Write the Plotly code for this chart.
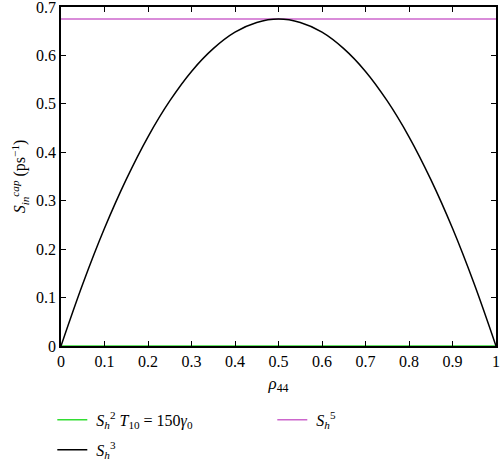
import plotly.graph_objects as go

rho = [0, 0.05, 0.1, 0.15, 0.2, 0.25, 0.3, 0.35, 0.4, 0.45, 0.5,
       0.55, 0.6, 0.65, 0.7, 0.75, 0.8, 0.85, 0.9, 0.95, 1.0]
s3 = [0, 0.128, 0.243, 0.344, 0.432, 0.506, 0.567, 0.614, 0.648, 0.668, 0.675,
      0.668, 0.648, 0.614, 0.567, 0.506, 0.432, 0.344, 0.243, 0.128, 0]
s2 = [0] * len(rho)
s5 = [0.675] * len(rho)

xticks = [0, 0.1, 0.2, 0.3, 0.4, 0.5, 0.6, 0.7, 0.8, 0.9, 1]
xticklabels = ["0", "0.1", "0.2", "0.3", "0.4", "0.5", "0.6", "0.7", "0.8", "0.9", "1"]
yticks = [0, 0.1, 0.2, 0.3, 0.4, 0.5, 0.6, 0.7]
yticklabels = ["0", "0.1", "0.2", "0.3", "0.4", "0.5", "0.6", "0.7"]

FONT = "Liberation Serif"

fig = go.Figure()
fig.add_trace(go.Scatter(x=rho, y=s2, mode="lines", line=dict(color="#33dd33", width=1.5),
                         legend="legend",
                         name="&nbsp;<i>S</i><sub><i>h</i></sub><sup>2</sup> <i>T</i><sub>10</sub> = 150<i>γ</i><sub>0</sub>"))
fig.add_trace(go.Scatter(x=rho, y=s5, mode="lines", line=dict(color="#cc66cc", width=1.5),
                         legend="legend",
                         name="&nbsp;<i>S</i><sub><i>h</i></sub><sup>5</sup>"))
fig.add_trace(go.Scatter(x=rho, y=s3, mode="lines", line=dict(color="black", width=1.5, shape="spline"),
                         legend="legend2",
                         name="&nbsp;<i>S</i><sub><i>h</i></sub><sup>3</sup>"))

axis_common = dict(showline=True, linecolor="black", linewidth=1.5, mirror="allticks",
                   ticks="inside", ticklen=5, tickwidth=1.2, tickcolor="black",
                   showgrid=False, zeroline=False, ticklabeloverflow="allow",
                   tickfont=dict(family=FONT, size=16, color="black"))

fig.update_xaxes(range=[0, 1], tickvals=xticks, ticktext=xticklabels,
                 title=dict(text="<i>ρ</i><sub>44</sub>", font=dict(family=FONT, size=17, color="black"), standoff=8),
                 **axis_common)
fig.update_yaxes(range=[0, 0.7], tickvals=yticks, ticktext=yticklabels,
                 title=dict(text="<i>S</i><sub><i>in</i></sub><sup><i>cap</i></sup> (ps<sup>−1</sup>)",
                            font=dict(family=FONT, size=16, color="black"), standoff=6),
                 **axis_common)

leg_common = dict(orientation="h", xanchor="left", yanchor="middle",
                  font=dict(family=FONT, size=16), itemwidth=30, bgcolor="rgba(0,0,0,0)")

fig.update_layout(
    width=500, height=463,
    margin=dict(l=61, r=4, t=7, b=117, autoexpand=False),
    plot_bgcolor="white", paper_bgcolor="white",
    font=dict(family=FONT, size=15, color="black"),
    legend=dict(x=-0.02, y=-0.218, entrywidth=175, entrywidthmode="pixels", **leg_common),
    legend2=dict(x=-0.02, y=-0.306, **leg_common),
    showlegend=True,
)

fig.write_html("out.html", config={"displayModeBar": False},
               post_script="document.documentElement.style.overflow='hidden';"
                           "document.body.style.margin='0';document.body.style.overflow='hidden';"
                           "window.scrollTo(0,0);")
